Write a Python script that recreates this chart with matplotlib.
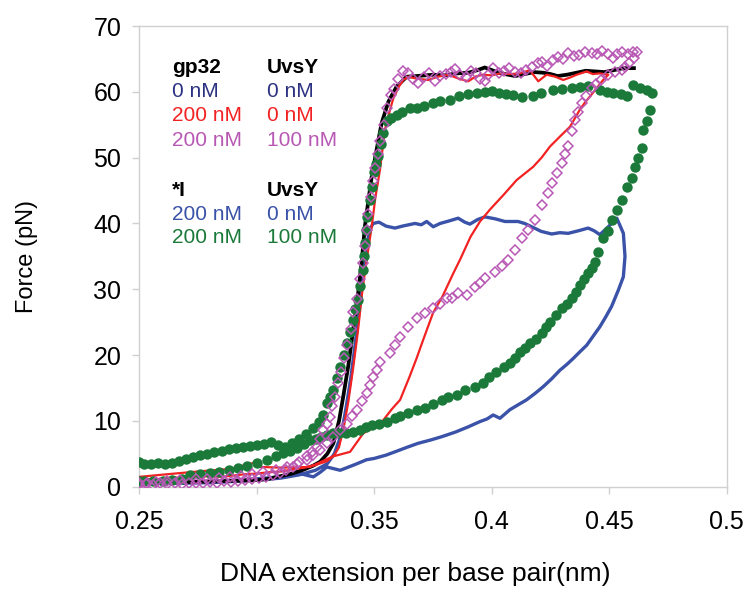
import matplotlib
matplotlib.use("Agg")
import matplotlib.pyplot as plt

plt.rcParams['font.family'] = ['Liberation Sans', 'DejaVu Sans']

#------ data (x = nm per bp, y = pN)
# black: gp32 0 nM, UvsY 0 nM (stretch only)
black_x = [0.250, 0.260, 0.270, 0.280, 0.290, 0.300, 0.305, 0.310, 0.315, 0.320,
           0.324, 0.327, 0.330, 0.3326, 0.335, 0.3368, 0.339, 0.341, 0.343, 0.3446,
           0.346, 0.3475, 0.3489, 0.351, 0.3531, 0.356, 0.3595, 0.3638, 0.368, 0.3751,
           0.380, 0.385, 0.390, 0.394, 0.397, 0.400, 0.403, 0.407, 0.410, 0.414,
           0.418, 0.422, 0.425, 0.428, 0.432, 0.436, 0.440, 0.444, 0.448, 0.452,
           0.456, 0.4605]
black_y = [0.8, 0.8, 0.7, 0.8, 0.9, 1.0, 1.2, 1.6, 2.0, 2.6,
           3.2, 3.8, 5.0, 6.6, 10.0, 13.7, 18.5, 23.8, 29.0, 34.0,
           39.5, 43.5, 47.1, 51.2, 55.2, 58.5, 60.8, 62.3, 62.4, 62.6,
           62.5, 62.8, 62.9, 63.3, 63.7, 63.3, 62.9, 62.6, 62.4, 62.7,
           63.0, 62.9, 62.7, 62.4, 62.6, 62.9, 63.2, 63.1, 63.0, 63.3,
           63.6, 63.6]

# red: gp32 200 nM, UvsY 0 nM (stretch + relax)
red_x = [0.250, 0.255, 0.260, 0.265, 0.270, 0.275, 0.280, 0.285, 0.290, 0.295,
         0.300, 0.305, 0.310, 0.315, 0.320, 0.325, 0.330, 0.333, 0.335, 0.337,
         0.339, 0.341, 0.343, 0.345, 0.347, 0.3489, 0.3505, 0.3524, 0.3545, 0.3565,
         0.3581, 0.3605, 0.3623, 0.3645, 0.368, 0.373, 0.377, 0.3816, 0.386, 0.390,
         0.393, 0.396, 0.400, 0.4035, 0.408, 0.412, 0.4162, 0.4198, 0.4233, 0.427,
         0.4304, 0.4335, 0.4361, 0.4404, 0.443, 0.446, 0.4496,
         0.4474, 0.4445, 0.4418, 0.4395, 0.4375, 0.4333, 0.429, 0.4248, 0.4212,
         0.4176, 0.4106, 0.4049, 0.3992, 0.395, 0.391, 0.3865, 0.3836, 0.379, 0.375,
         0.3708, 0.368, 0.365, 0.361, 0.3575, 0.3538, 0.3495, 0.3453, 0.3397, 0.3324,
         0.3226, 0.310, 0.302, 0.2985, 0.294, 0.2886, 0.2744, 0.262, 0.250]
red_y = [1.2, 1.1, 1.2, 1.4, 1.3, 1.5, 1.6, 1.5, 1.7, 1.9,
         2.0, 2.2, 2.3, 2.6, 2.9, 3.3, 3.9, 4.8, 6.0, 9.0,
         13.0, 18.0, 23.5, 30.0, 35.0, 39.5, 44.0, 48.1, 54.2, 57.0,
         59.0, 60.8, 61.8, 62.3, 62.0, 61.8, 62.3, 62.6, 62.0, 61.6,
         62.3, 62.6, 62.5, 62.8, 62.7, 62.8, 63.3, 61.6, 62.6, 62.3,
         61.8, 62.2, 62.6, 63.1, 62.7, 62.8, 62.6,
         61.8, 60.5, 59.3, 58.3, 57.3, 54.7, 53.2, 51.7, 50.0,
         48.6, 46.6, 44.3, 42.1, 40.3, 38.0, 34.5, 32.4, 28.9, 26.4,
         22.3, 19.5, 16.7, 13.2, 11.8, 10.1, 9.0, 8.1, 5.3, 4.6,
         3.0, 2.9, 3.0, 3.6, 3.2, 2.7, 2.3, 1.9, 1.5]

# pink: gp32 200 nM, UvsY 100 nM
pink_x = [0.250, 0.253, 0.256, 0.259, 0.262, 0.265, 0.268, 0.271, 0.274, 0.277,
          0.280, 0.283, 0.286, 0.289, 0.292, 0.295, 0.298, 0.301, 0.304, 0.307,
          0.310, 0.3125, 0.3155, 0.318, 0.3212, 0.3235, 0.3255, 0.327, 0.3283, 0.330,
          0.3311, 0.3322, 0.3333, 0.3347, 0.336, 0.337, 0.3385, 0.340, 0.341, 0.3425,
          0.3439, 0.345, 0.346, 0.3467, 0.3475, 0.3485, 0.3495, 0.3505, 0.3515, 0.3525,
          0.354, 0.3555, 0.357, 0.3585, 0.360, 0.3623, 0.3645, 0.3665, 0.3687, 0.371,
          0.3735, 0.376, 0.378, 0.3805, 0.3825, 0.3843, 0.3865, 0.389, 0.391, 0.3935,
          0.395, 0.397, 0.3985, 0.4006, 0.403, 0.405, 0.4075, 0.410, 0.4125, 0.4145,
          0.417, 0.4195, 0.4212, 0.4235, 0.426, 0.428, 0.4305, 0.4325, 0.4348, 0.437,
          0.4395, 0.4425, 0.4448, 0.447, 0.4494, 0.4515, 0.4535, 0.4555, 0.458, 0.460,
          0.4616,
          0.4605, 0.4585, 0.4568, 0.4553, 0.4525, 0.4496, 0.4465, 0.4445, 0.4425, 0.440,
          0.4382, 0.4368, 0.4354, 0.4340, 0.4325, 0.4311, 0.4297, 0.4276, 0.4255, 0.424,
          0.4212, 0.4184, 0.4155, 0.4127, 0.4099, 0.407, 0.4042, 0.4014, 0.397, 0.395,
          0.3929, 0.3893, 0.3857, 0.3832, 0.3808, 0.378, 0.3751, 0.3715, 0.368, 0.3645,
          0.3609, 0.3588, 0.3567, 0.3524, 0.351, 0.3496, 0.348, 0.3467, 0.3446, 0.3425,
          0.3404, 0.3382, 0.3354, 0.3326, 0.3298, 0.3269, 0.324, 0.3212, 0.317, 0.3127,
          0.308, 0.3028, 0.298, 0.2935, 0.2886, 0.284, 0.279, 0.274, 0.2673, 0.262,
          0.257, 0.2535, 0.250]
pink_y = [0.3, 0.4, 0.3, 0.5, 0.4, 0.5, 0.4, 0.6, 0.5, 0.6,
          0.7, 0.6, 0.8, 0.7, 0.9, 1.0, 1.1, 1.3, 1.5, 1.8,
          2.1, 2.5, 3.0, 3.7, 4.6, 5.3, 6.1, 7.2, 8.6, 9.6,
          10.6, 12.2, 13.7, 15.7, 17.5, 19.5, 21.5, 24.0, 26.5, 28.5,
          31.5, 34.0, 36.5, 39.0, 41.5, 44.0, 46.5, 48.5, 50.5, 52.5,
          55.0, 57.5, 59.5, 60.5, 62.0, 63.1, 62.8, 62.0, 61.3, 62.2,
          62.9, 61.6, 62.4, 62.7, 63.0, 63.4, 62.6, 62.2, 63.1, 62.8,
          62.0, 61.7, 62.6, 63.6, 62.9, 63.2, 63.6, 63.0, 62.9, 63.3,
          63.8, 64.4, 64.6, 64.0, 64.8, 65.3, 65.0, 65.9, 65.4, 65.6,
          66.0, 65.9, 65.8, 66.2, 65.7, 65.2, 65.7, 66.0, 65.8, 66.1,
          66.0,
          65.2, 64.4, 63.8, 63.3, 63.0, 62.6, 61.8, 61.2, 60.6, 59.3,
          58.3, 57.0, 55.7, 54.0, 51.7, 50.5, 49.2, 47.6, 46.1, 44.6,
          42.8, 40.5, 39.0, 37.8, 36.0, 34.5, 33.6, 32.7, 31.7, 30.9,
          30.4, 29.2, 29.4, 28.6, 28.6, 27.8, 27.1, 26.4, 25.6, 24.2,
          22.8, 21.5, 20.3, 19.0, 17.8, 16.7, 15.5, 14.2, 13.0, 11.7,
          10.7, 9.6, 8.6, 7.6, 6.6, 5.6, 4.8, 4.1, 3.5, 3.0,
          2.6, 2.3, 1.9, 1.7, 1.5, 1.3, 1.2, 1.1, 1.0, 0.8,
          0.7, 0.6, 0.55]

# blue: *I 200 nM, UvsY 0 nM
blue_x = [0.250, 0.260, 0.270, 0.280, 0.290, 0.300, 0.310, 0.318, 0.325, 0.330,
          0.333, 0.336, 0.338, 0.340, 0.342, 0.344, 0.3455, 0.347, 0.348, 0.3495,
          0.352, 0.355, 0.3588, 0.362, 0.3673, 0.370, 0.3723, 0.3751, 0.378, 0.382,
          0.3857, 0.3885, 0.3907, 0.394, 0.3971, 0.4015, 0.4056, 0.4112, 0.414, 0.417,
          0.421, 0.4255, 0.429, 0.4325, 0.437, 0.441, 0.4435, 0.446, 0.4496, 0.4532,
          0.4548, 0.456, 0.4567, 0.456, 0.4539, 0.451, 0.4485, 0.446, 0.4432, 0.4404,
          0.4375, 0.4347, 0.432, 0.429, 0.4255, 0.4219, 0.4185, 0.4148, 0.411, 0.4077,
          0.4035, 0.4006, 0.398, 0.395, 0.390, 0.3845, 0.3787, 0.374, 0.3687, 0.364,
          0.3588, 0.355, 0.350, 0.3467, 0.342, 0.3355, 0.3298, 0.327, 0.3241, 0.3184,
          0.310, 0.300, 0.290, 0.280, 0.270, 0.260, 0.250]
blue_y = [0.5, 0.5, 0.6, 0.6, 0.8, 1.0, 1.3, 1.8, 2.5, 3.5,
          5.0, 8.0, 12.0, 16.5, 22.0, 28.0, 33.0, 37.0, 39.0, 40.0,
          40.2, 39.6, 39.3, 39.6, 40.0, 39.8, 40.3, 39.5, 40.0, 40.4,
          40.8, 40.2, 39.9, 40.6, 41.0, 40.7, 40.3, 40.3, 40.0, 39.5,
          38.8, 38.4, 38.6, 38.5, 38.9, 39.3, 38.9, 38.3, 39.5, 40.8,
          39.5, 38.5, 35.0, 31.9, 29.9, 27.4, 25.8, 24.3, 22.9, 21.5,
          20.5, 19.5, 18.6, 17.7, 16.4, 15.2, 14.2, 13.2, 12.4, 11.7,
          10.4, 10.9, 10.3, 9.9, 9.1, 8.3, 7.6, 7.1, 6.6, 6.0,
          5.3, 4.8, 4.3, 4.1, 3.4, 2.5, 3.0, 2.2, 1.5, 2.0,
          1.5, 1.2, 0.9, 0.7, 0.6, 0.5, 0.5]

# green: *I 200 nM, UvsY 100 nM
green_x = [0.250, 0.252, 0.255, 0.258, 0.261, 0.264, 0.267, 0.270, 0.273, 0.276,
           0.279, 0.282, 0.285, 0.288, 0.291, 0.294, 0.297, 0.300, 0.303, 0.306,
           0.309, 0.312, 0.315, 0.318, 0.321, 0.324, 0.3265, 0.328, 0.3298, 0.331,
           0.3326, 0.334, 0.3355, 0.337, 0.3383, 0.3395, 0.3411, 0.342, 0.3432, 0.344,
           0.345, 0.3455, 0.346, 0.3465, 0.347, 0.348, 0.3489, 0.350, 0.3507, 0.3517,
           0.3528, 0.3538, 0.3553, 0.357, 0.3595, 0.362, 0.365, 0.368, 0.371, 0.3751,
           0.378, 0.3822, 0.386, 0.390, 0.3936, 0.397, 0.400, 0.403, 0.406, 0.4091,
           0.413, 0.4176, 0.421, 0.4262, 0.430, 0.434, 0.4375, 0.441, 0.4461, 0.449,
           0.4517, 0.455, 0.4574, 0.4602, 0.463, 0.4659, 0.468,
           0.4673, 0.4659, 0.4644, 0.4638, 0.4623, 0.4609, 0.4595, 0.4574, 0.4553, 0.4532,
           0.451, 0.4496, 0.4474, 0.4453, 0.4439, 0.4425, 0.441, 0.4392, 0.4375, 0.4358,
           0.434, 0.432, 0.4297, 0.4272, 0.4248, 0.423, 0.4212, 0.4187, 0.4162, 0.414,
           0.412, 0.410, 0.4077, 0.405, 0.402, 0.399, 0.3964, 0.393, 0.3886, 0.385,
           0.3815, 0.3787, 0.375, 0.3716, 0.368, 0.3645, 0.361, 0.3588, 0.3555, 0.352,
           0.349, 0.3465, 0.3439, 0.341, 0.338, 0.335, 0.3326, 0.330, 0.3275, 0.325,
           0.3226, 0.320, 0.317, 0.314, 0.3113, 0.308, 0.3042, 0.300, 0.296, 0.292,
           0.288, 0.284, 0.280, 0.276, 0.2716, 0.268, 0.264, 0.260, 0.256, 0.252,
           0.250]
green_y = [3.7, 3.5, 3.4, 3.6, 3.4, 3.6, 3.9, 4.2, 4.5, 4.8,
           5.0, 5.2, 5.4, 5.7, 5.9, 6.0, 6.2, 6.3, 6.5, 6.8,
           6.4, 6.1, 6.6, 7.3, 8.0, 8.9, 9.8, 10.9, 12.7, 13.6,
           14.7, 16.5, 18.2, 20.0, 21.8, 23.5, 25.3, 27.0, 28.4, 30.5,
           33.0, 35.0, 37.0, 39.0, 41.0, 43.5, 45.6, 47.8, 49.0, 50.2,
           52.0, 53.7, 55.5, 56.0, 56.5, 57.0, 57.5, 57.6, 57.9, 58.3,
           58.6, 58.8, 59.3, 59.6, 59.8, 60.0, 60.2, 59.8, 59.6, 59.5,
           59.2, 59.3, 59.8, 60.3, 60.4, 60.6, 60.8, 60.9, 60.3, 60.0,
           59.8, 59.6, 59.3, 61.1, 60.6, 60.3, 59.8,
           57.3, 55.5, 54.2, 51.4, 49.9, 48.6, 46.9, 45.6, 43.6, 42.1,
           40.5, 38.8, 37.8, 35.7, 34.2, 33.3, 32.4, 31.5, 30.7, 29.6,
           28.6, 27.8, 27.1, 26.1, 25.1, 24.2, 23.3, 22.5, 21.8, 21.1,
           20.5, 19.6, 18.8, 18.2, 17.5, 16.6, 15.7, 15.2, 14.7, 14.0,
           13.6, 13.2, 12.5, 11.9, 11.6, 11.2, 10.7, 10.4, 9.8, 9.5,
           9.4, 9.0, 8.6, 8.3, 8.2, 8.1, 8.1, 7.8, 7.5, 7.3,
           7.1, 6.5, 5.9, 5.4, 5.1, 4.6, 4.1, 3.6, 3.2, 2.9,
           2.6, 2.3, 2.1, 2.0, 1.8, 1.2, 1.0, 0.9, 0.8, 0.8,
           0.8]

#------ legend text (two small tables)
head1 = ['gp32', 'UvsY']
rows1 = [('0 nM', '0 nM'), ('200 nM', '0 nM'), ('200 nM', '100 nM')]
head2 = ['*I', 'UvsY']
rows2 = [('200 nM', '0 nM'), ('200 nM', '100 nM')]

c_black = '#000000'
c_red = '#F22222'
c_pink = '#B858B4'
c_blue = '#3A52A8'
c_green = '#1B7A3A'
c_navy = '#2C3282'

fig = plt.figure(figsize=(7.5, 5.94), dpi=100)
ax = fig.add_axes([0.1857, 0.1806, 0.7833, 0.7756])

ax.plot(blue_x, blue_y, color=c_blue, lw=2.4, zorder=2)
ax.plot(black_x, black_y, color=c_black, lw=2.7, zorder=3)
ax.plot(red_x, red_y, color=c_red, lw=1.6, zorder=4)
ax.plot(green_x, green_y, 'o', color=c_green, ms=7.5, mew=0, zorder=5)
ax.plot(pink_x, pink_y, 'D', mfc='none', mec=c_pink, ms=5.5, mew=1.1, zorder=6)

ax.set_xlim(0.25, 0.5)
ax.set_ylim(0, 70)
ax.set_xticks([0.25, 0.3, 0.35, 0.4, 0.45, 0.5])
ax.set_xticklabels(['0.25', '0.3', '0.35', '0.4', '0.45', '0.5'])
ax.set_yticks(range(0, 71, 10))

for s in ax.spines.values():
    s.set_color('#D0D0D0')
    s.set_linewidth(1.0)
ax.tick_params(axis='both', colors='#D0D0D0', labelcolor='black', labelsize=18,
               length=5, width=1.0, direction='out')
ax.tick_params(axis='x', pad=12)
ax.tick_params(axis='y', pad=8)

ax.set_xlabel('DNA extension per base pair(nm)', fontsize=19, labelpad=20, x=0.47)
ax.set_ylabel('Force (pN)', fontsize=17, labelpad=40)

#------ the in-plot table
xa, xb = 0.2638, 0.3042
ax.text(xa, 62.8, head1[0], fontsize=15, fontweight='bold')
ax.text(xb, 62.8, head1[1], fontsize=15, fontweight='bold')
cols1 = [c_navy, c_red, c_pink]
ys1 = [59.2, 55.5, 51.8]
for (a, b), c, yy in zip(rows1, cols1, ys1):
    ax.text(xa, yy, a, fontsize=15, color=c)
    ax.text(xb, yy, b, fontsize=15, color=c)

ax.text(xa, 44.1, head2[0], fontsize=15, fontweight='bold')
ax.text(xb, 44.1, head2[1], fontsize=15, fontweight='bold')
cols2 = [c_blue, c_green]
ys2 = [40.5, 37.0]
for (a, b), c, yy in zip(rows2, cols2, ys2):
    ax.text(xa, yy, a, fontsize=15, color=c)
    ax.text(xb, yy, b, fontsize=15, color=c)

plt.savefig('out.png', dpi=100)
